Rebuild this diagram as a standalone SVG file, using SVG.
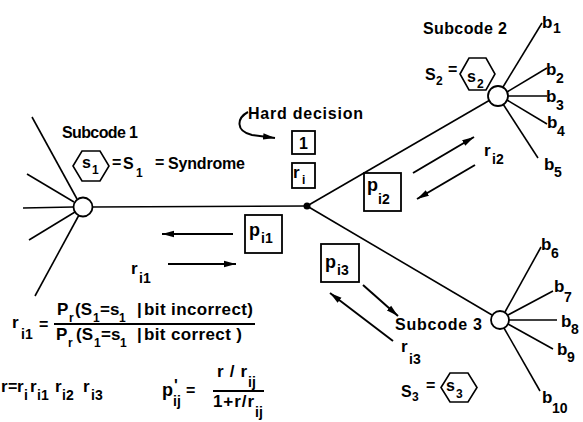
<svg xmlns="http://www.w3.org/2000/svg" width="583" height="422" viewBox="0 0 583 422">
<defs>
<style>
text{font-family:"Liberation Sans",Arial,sans-serif;font-weight:bold;font-size:16px;fill:#000}
.big{font-size:18px}
.sub{font-size:14px}
.sm{font-size:12px}
.ln{stroke:#000;stroke-width:1.6;fill:none}
.ar{stroke:#000;stroke-width:2;fill:none;marker-end:url(#ah)}
.box{stroke:#000;stroke-width:1.8;fill:#fff}
.node{stroke:#000;stroke-width:1.8;fill:#fff}
.hex{stroke:#000;stroke-width:1.6;fill:#fff}
.f{font-size:17px}
</style>
<marker id="ah" markerUnits="userSpaceOnUse" markerWidth="14" markerHeight="8" refX="12" refY="4" orient="auto">
<path d="M0,0.8 L12,4 L0,7.2 Z" fill="#000"/>
</marker>
</defs>
<rect width="583" height="422" fill="#fff"/>

<g id="connectors">
<line class="ln" x1="32" y1="117" x2="77" y2="199"/>
<line class="ln" x1="27" y1="174" x2="74" y2="202"/>
<line class="ln" x1="23" y1="208" x2="73" y2="207"/>
<line class="ln" x1="29" y1="240" x2="75" y2="212"/>
<line class="ln" x1="35" y1="296" x2="79" y2="215"/>
<line class="ln" x1="92" y1="207" x2="307" y2="206"/>
<line class="ln" x1="307" y1="206" x2="490" y2="100"/>
<line class="ln" x1="307" y1="206" x2="492" y2="315"/>
<line class="ln" x1="503" y1="87" x2="542" y2="23"/>
<line class="ln" x1="507" y1="92" x2="547" y2="68"/>
<line class="ln" x1="508" y1="96" x2="547" y2="96"/>
<line class="ln" x1="507" y1="100" x2="547" y2="124"/>
<line class="ln" x1="503" y1="104" x2="538" y2="158"/>
<line class="ln" x1="505" y1="312" x2="541" y2="247"/>
<line class="ln" x1="508" y1="315" x2="553" y2="291"/>
<line class="ln" x1="509" y1="320" x2="557" y2="320"/>
<line class="ln" x1="508" y1="324" x2="553" y2="349"/>
<line class="ln" x1="504" y1="328" x2="540" y2="391"/>
<path class="ar" d="M248,112 C237,118 235,131 252,135 L275,138"/>
<line class="ar" x1="233" y1="234" x2="162" y2="234"/>
<line class="ar" x1="168" y1="264" x2="236" y2="264"/>
<line class="ar" x1="413" y1="173" x2="474" y2="137"/>
<line class="ar" x1="475" y1="165" x2="417" y2="199"/>
<line class="ar" x1="363" y1="285" x2="398" y2="316"/>
<line class="ar" x1="393" y1="341" x2="330" y2="293"/>
</g>

<g id="node-subcode1">
<circle class="node" cx="83" cy="207" r="9.5"/>
<text x="62" y="138" textLength="76">Subcode 1</text>
<polygon class="hex" points="73,166 82,151 100,151 109,166 100,181 82,181"/>
<text x="82" y="168">s</text><text class="sm" x="92" y="174">1</text>
<text x="112" y="168">=</text>
<text x="123" y="169">S</text><text class="sm" x="136" y="177">1</text>
<text x="155" y="168">=</text>
<text x="168" y="169" textLength="77">Syndrome</text>
</g>

<g id="node-junction">
<circle cx="307" cy="206" r="3.5" fill="#000"/>
</g>

<g id="node-hard-decision">
<text x="248" y="119" textLength="115">Hard decision</text>
<rect class="box" x="292" y="131" width="23" height="23"/>
<text x="303.5" y="149" text-anchor="middle">1</text>
<rect class="box" x="292" y="163" width="23" height="25"/>
<text class="f" x="293" y="178">r</text><text class="sm" x="302" y="184">i</text>
</g>

<g id="node-pi1">
<rect class="box" x="245" y="215" width="37" height="38"/>
<text class="big" x="249" y="236">p</text><text class="sub" x="261" y="243">i1</text>
<text class="f" x="131" y="274">r</text><text class="sub" x="139" y="283">i1</text>
</g>

<g id="node-pi2">
<rect class="box" x="364" y="173" width="37" height="38"/>
<text class="big" x="367" y="191">p</text><text class="sub" x="378" y="204">i2</text>
<text class="f" x="484" y="156">r</text><text class="sub" x="492" y="164">i2</text>
</g>

<g id="node-pi3">
<rect class="box" x="321" y="244" width="38" height="38"/>
<text class="big" x="325" y="268">p</text><text class="sub" x="337" y="275">i3</text>
</g>

<g id="node-subcode2">
<circle class="node" cx="498" cy="96" r="10"/>
<text x="423" y="34" textLength="84">Subcode 2</text>
<text x="425" y="80">S</text><text class="sm" x="436" y="85">2</text>
<text x="448" y="75">=</text>
<polygon class="hex" points="460,74 469,58 486,58 495,74 486,90 469,90"/>
<text x="467" y="82">s</text><text class="sm" x="477" y="88">2</text>
<text class="f" x="542" y="28">b</text><text class="sub" x="553" y="33">1</text>
<text class="f" x="546" y="75">b</text><text class="sub" x="556" y="83">2</text>
<text class="f" x="546" y="102">b</text><text class="sub" x="556" y="110">3</text>
<text class="f" x="547" y="128">b</text><text class="sub" x="557" y="136">4</text>
<text class="f" x="544" y="170">b</text><text class="sub" x="554" y="177">5</text>
</g>

<g id="node-subcode3">
<circle class="node" cx="500" cy="320" r="9"/>
<text x="395" y="330" textLength="87">Subcode 3</text>
<text class="f" x="401" y="352">r</text><text class="sub" x="409" y="364">i3</text>
<text x="401" y="397">S</text><text class="sm" x="412" y="401">3</text>
<text x="426" y="391">=</text>
<polygon class="hex" points="441,387.5 450,373 468,373 477,387.5 468,402 450,402"/>
<text x="446" y="391">s</text><text class="sm" x="456" y="398">3</text>
<text class="f" x="541" y="250">b</text><text class="sub" x="551" y="258">6</text>
<text class="f" x="554" y="292">b</text><text class="sub" x="564" y="302">7</text>
<text class="f" x="561" y="327">b</text><text class="sub" x="571" y="334">8</text>
<text class="f" x="557" y="355">b</text><text class="sub" x="567" y="362">9</text>
<text class="f" x="542" y="403">b</text><text class="sub" x="552" y="413">10</text>
</g>

<g id="formula-ri1">
<text class="f" x="12" y="328">r</text><text class="sub" x="21" y="339">i1</text>
<text x="39" y="330">=</text>
<line x1="54" y1="324" x2="255" y2="324" stroke="#000" stroke-width="1.8"/>
<text class="f" x="57" y="315">P</text><text class="sm" x="69" y="322">r</text>
<text class="f" x="75" y="315">(S</text><text class="sm" x="93" y="322">1</text>
<text class="f" x="100" y="315">=s</text><text class="sm" x="119" y="322">1</text>
<text class="f" x="137" y="315">|</text>
<text class="f" x="144" y="315" textLength="109">bit incorrect)</text>
<text class="f" x="56" y="340">P</text><text class="sm" x="68" y="347">r</text>
<text class="f" x="76" y="340">(S</text><text class="sm" x="94" y="347">1</text>
<text class="f" x="101" y="340">=s</text><text class="sm" x="120" y="347">1</text>
<text class="f" x="137" y="340">|</text>
<text class="f" x="144" y="340" textLength="98">bit  correct )</text>
</g>

<g id="formula-r">
<text class="f" x="1" y="392">r</text>
<text x="8" y="392">=</text>
<text class="f" x="17" y="392">r</text><text class="sub" x="24" y="400">i</text>
<text class="f" x="30" y="392">r</text><text class="sub" x="37" y="400">i1</text>
<text class="f" x="55" y="392">r</text><text class="sub" x="62" y="400">i2</text>
<text class="f" x="83" y="392">r</text><text class="sub" x="91" y="400">i3</text>
</g>

<g id="formula-p">
<text class="big" x="162" y="396">p</text>
<text x="174" y="391">'</text>
<text class="sub" x="173" y="406">ij</text>
<text x="186" y="396">=</text>
<text class="f" x="217" y="377" textLength="30">r/r</text><text class="sub" x="248" y="387">ij</text>
<line x1="213" y1="391" x2="264" y2="391" stroke="#000" stroke-width="1.8"/>
<text class="f" x="213" y="407" textLength="41">1+r/r</text><text class="sub" x="255" y="417">ij</text>
</g>
</svg>
